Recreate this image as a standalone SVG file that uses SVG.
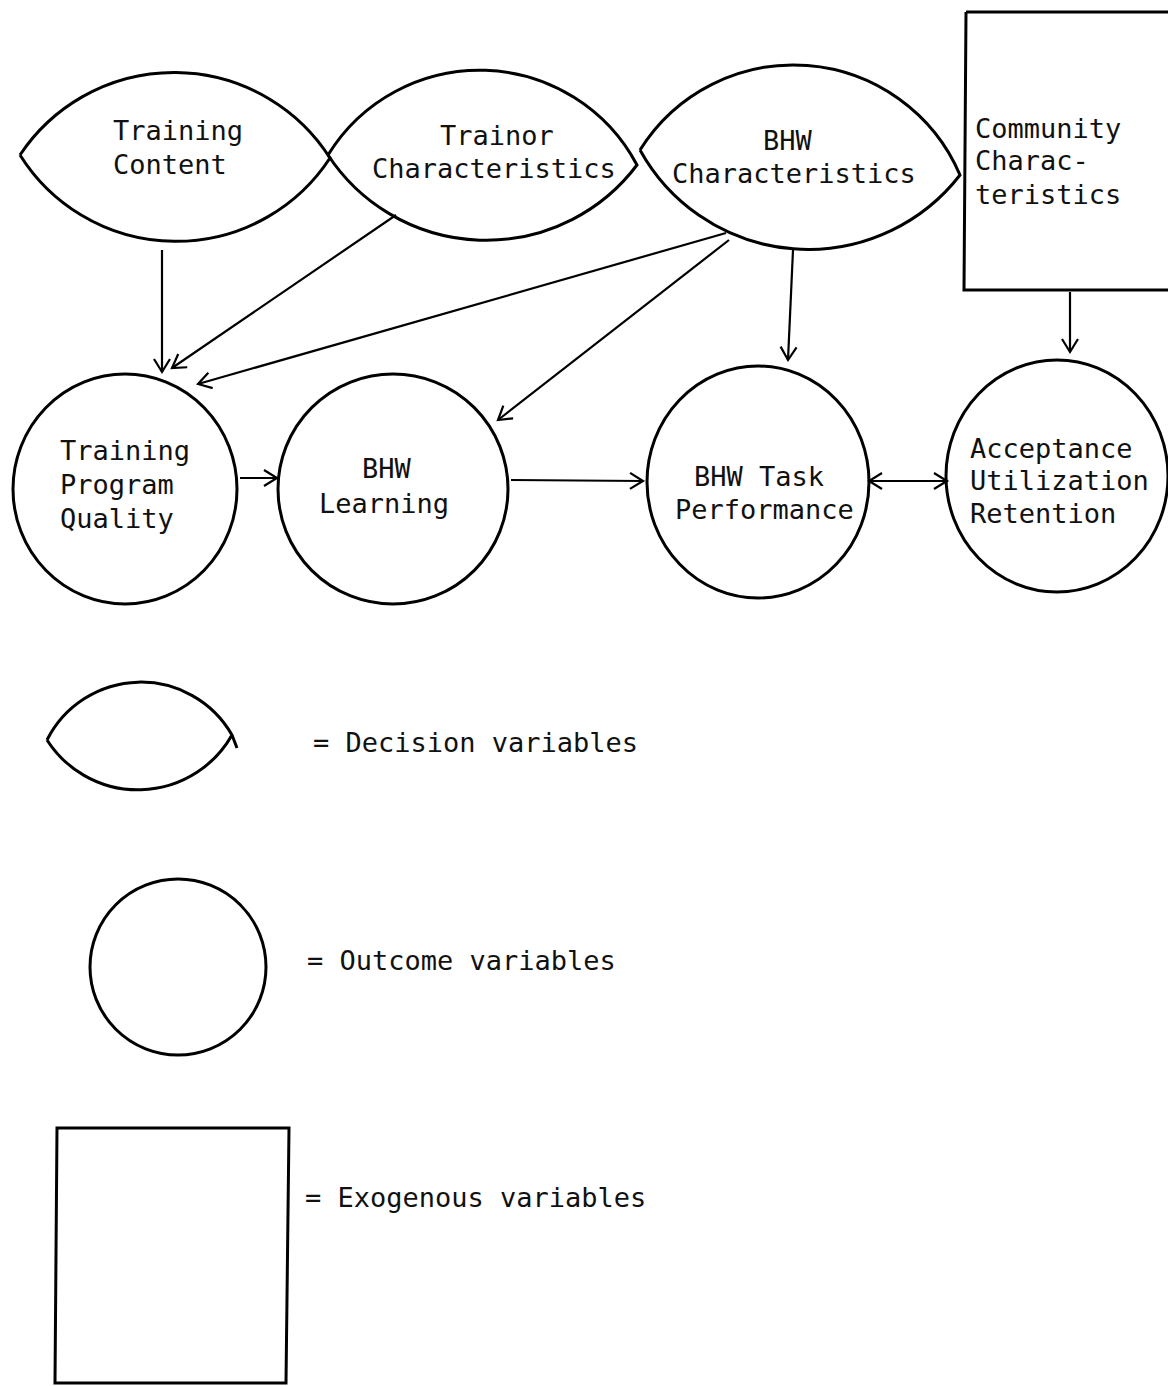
<svg xmlns="http://www.w3.org/2000/svg" width="1168" height="1386" viewBox="0 0 1168 1386">
<style>
.s{fill:none;stroke:#000;stroke-width:3}
.c{fill:none;stroke:#000;stroke-width:2.2}
text{font-family:"DejaVu Sans Mono","Liberation Mono",monospace;font-size:27px;fill:#111}
</style>
<defs>
<marker id="ah" markerUnits="userSpaceOnUse" markerWidth="30" markerHeight="30" refX="15" refY="9" orient="auto">
<path d="M2 1 L15 9 L2 17" fill="none" stroke="#000" stroke-width="2.2"/>
</marker>
<marker id="as" markerUnits="userSpaceOnUse" markerWidth="30" markerHeight="30" refX="2" refY="9" orient="auto">
<path d="M15 1 L2 9 L15 17" fill="none" stroke="#000" stroke-width="2.2"/>
</marker>
</defs>
<rect width="1168" height="1386" fill="#fff"/>

<g id="training-content">
<path class="s" d="M20 155 A185 185 0 0 1 330 158 A184 184 0 0 1 20 155"/>
<text x="113" y="140">Training</text>
<text x="113" y="174">Content</text>
</g>
<g id="trainor-characteristics">
<path class="s" d="M328 155 A178 178 0 0 1 637 165 A189 189 0 0 1 328 155"/>
<text x="440" y="145">Trainor</text>
<text x="372" y="178">Characteristics</text>
</g>
<g id="bhw-characteristics">
<path class="s" d="M640 150 A181 181 0 0 1 960 175 A192 192 0 0 1 640 150"/>
<text x="763" y="150">BHW</text>
<text x="672" y="183">Characteristics</text>
</g>
<g id="community-characteristics">
<path class="s" d="M966 12 L1170 12 M966 12 L964 290 L1170 290"/>
<text x="975" y="138">Community</text>
<text x="975" y="170">Charac-</text>
<text x="975" y="204">teristics</text>
</g>

<g id="training-program-quality">
<ellipse class="s" cx="125" cy="489" rx="112" ry="115"/>
<text x="60" y="460">Training</text>
<text x="60" y="494">Program</text>
<text x="60" y="528">Quality</text>
</g>
<g id="bhw-learning">
<ellipse class="s" cx="393" cy="489" rx="115" ry="115"/>
<text x="362" y="478">BHW</text>
<text x="319" y="513">Learning</text>
</g>
<g id="bhw-task-performance">
<ellipse class="s" cx="758" cy="482" rx="111" ry="116"/>
<text x="694" y="486">BHW Task</text>
<text x="675" y="519">Performance</text>
</g>
<g id="acceptance">
<ellipse class="s" cx="1057" cy="476" rx="111" ry="116"/>
<text x="970" y="458">Acceptance</text>
<text x="970" y="490">Utilization</text>
<text x="970" y="523">Retention</text>
</g>

<g id="connectors">
<line class="c" x1="162" y1="250" x2="162" y2="372" marker-end="url(#ah)"/>
<line class="c" x1="396" y1="215" x2="172" y2="368" marker-end="url(#ah)"/>
<line class="c" x1="726" y1="233" x2="198" y2="384" marker-end="url(#ah)"/>
<line class="c" x1="729" y1="240" x2="498" y2="420" marker-end="url(#ah)"/>
<line class="c" x1="793" y1="250" x2="788" y2="360" marker-end="url(#ah)"/>
<line class="c" x1="1070" y1="292" x2="1070" y2="352" marker-end="url(#ah)"/>
<line class="c" x1="240" y1="478" x2="277" y2="478" marker-end="url(#ah)"/>
<line class="c" x1="511" y1="480" x2="643" y2="481" marker-end="url(#ah)"/>
<line class="c" x1="869" y1="481" x2="947" y2="481" marker-start="url(#as)" marker-end="url(#ah)"/>
</g>

<g id="legend-decision">
<path class="s" d="M47 740 A105 105 0 0 1 232 735 A108 108 0 0 1 47 740 M232 735 L237 748"/>
<text x="313" y="752">= Decision variables</text>
</g>
<g id="legend-outcome">
<ellipse class="s" cx="178" cy="967" rx="88" ry="88"/>
<text x="307" y="970">= Outcome variables</text>
</g>
<g id="legend-exogenous">
<path class="s" d="M57 1128 L289 1128 L286 1383 L55 1383 Z"/>
<text x="305" y="1207">= Exogenous variables</text>
</g>
</svg>
